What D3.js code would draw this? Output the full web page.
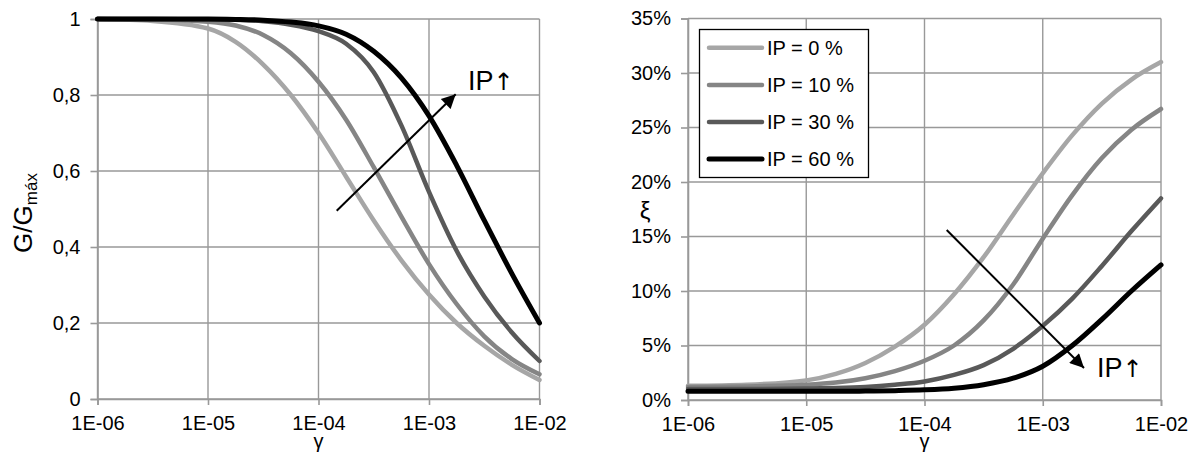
<!DOCTYPE html>
<html>
<head>
<meta charset="utf-8">
<script src="https://cdn.jsdelivr.net/npm/d3@7"></script>
<style>
  html, body { margin: 0; padding: 0; background: #fff; }
  svg { display: block; font-family: "Liberation Sans", Arial, sans-serif; }
</style>
</head>
<body>
<svg id="chart" width="1195" height="452"></svg>
<script>
// ---- data ----
const gamma = [1e-6, 3.162e-6, 1e-5, 1.778e-5, 3.162e-5, 5.623e-5, 1e-4, 1.778e-4, 3.162e-4, 5.623e-4, 1e-3, 1.778e-3, 3.162e-3, 5.623e-3, 1e-2];
const seriesNames = ["IP = 0 %", "IP = 10 %", "IP = 30 %", "IP = 60 %"];
const seriesColors = ["#a6a6a6", "#858585", "#595959", "#000000"];
// G/Gmax
const G_IP0  = [1.0, 0.995, 0.975, 0.94, 0.88, 0.80, 0.70, 0.585, 0.47, 0.365, 0.275, 0.20, 0.14, 0.09, 0.05];
const G_IP10 = [1.0, 0.999, 0.993, 0.983, 0.958, 0.91, 0.835, 0.735, 0.61, 0.48, 0.355, 0.25, 0.165, 0.105, 0.065];
const G_IP30 = [1.0, 1.0, 0.999, 0.998, 0.994, 0.985, 0.968, 0.935, 0.86, 0.72, 0.545, 0.39, 0.27, 0.175, 0.10];
const G_IP60 = [1.0, 1.0, 1.0, 0.999, 0.997, 0.992, 0.982, 0.96, 0.915, 0.845, 0.745, 0.615, 0.47, 0.33, 0.20];
// damping xi (%)
const D_IP0  = [1.3, 1.4, 1.8, 2.4, 3.4, 4.9, 6.9, 9.7, 13.1, 17.0, 20.8, 24.3, 27.2, 29.4, 31.0];
const D_IP10 = [1.2, 1.25, 1.4, 1.6, 2.0, 2.65, 3.6, 5.0, 7.3, 10.6, 14.8, 18.8, 22.2, 24.8, 26.7];
const D_IP30 = [1.0, 1.0, 1.05, 1.1, 1.2, 1.4, 1.7, 2.3, 3.2, 4.7, 6.8, 9.3, 12.3, 15.5, 18.5];
const D_IP60 = [0.8, 0.8, 0.8, 0.8, 0.82, 0.86, 0.93, 1.08, 1.4, 2.0, 3.1, 5.0, 7.4, 10.0, 12.4];
const xTickValues = [1e-6, 1e-5, 1e-4, 1e-3, 1e-2];
const xTickLabels = ["1E-06", "1E-05", "1E-04", "1E-03", "1E-02"];
const gTicks = [0, 0.2, 0.4, 0.6, 0.8, 1];
const gTickLabels = ["0", "0,2", "0,4", "0,6", "0,8", "1"];
const dTicks = [0, 5, 10, 15, 20, 25, 30, 35];
const dTickLabels = ["0%", "5%", "10%", "15%", "20%", "25%", "30%", "35%"];

const svg = d3.select("#chart");
const gridColor = "#999999";
const FS = 20;

// arrow marker
const defs = svg.append("defs");
defs.append("marker").attr("id", "ah").attr("viewBox", "0 0 10 10")
  .attr("refX", 10).attr("refY", 5).attr("markerWidth", 8).attr("markerHeight", 7)
  .attr("markerUnits", "strokeWidth").attr("orient", "auto")
  .append("path").attr("d", "M0,0 L10,5 L0,10 Z").attr("fill", "#000");

function panel(opts) {
  const x = d3.scaleLog().domain([1e-6, 1e-2]).range(opts.xr);
  const y = d3.scaleLinear().domain(opts.yd).range(opts.yr);
  const g = svg.append("g");
  // grid
  g.append("g").selectAll("line").data(opts.yTicks).join("line")
    .attr("x1", opts.xr[0]).attr("x2", opts.xr[1])
    .attr("y1", d => y(d)).attr("y2", d => y(d))
    .attr("stroke", gridColor).attr("stroke-width", 1.4);
  g.append("g").selectAll("line").data(xTickValues).join("line")
    .attr("x1", d => x(d)).attr("x2", d => x(d))
    .attr("y1", opts.yr[0]).attr("y2", opts.yr[1])
    .attr("stroke", gridColor).attr("stroke-width", 1.4);
  // axes
  const xAxis = d3.axisBottom(x).tickValues(xTickValues)
    .tickFormat((d, i) => xTickLabels[i]).tickSize(6).tickPadding(8);
  const ax = g.append("g").attr("transform", `translate(0,${opts.yr[0]})`).call(xAxis);
  const yAxis = d3.axisLeft(y).tickValues(opts.yTicks)
    .tickFormat((d, i) => opts.yLabels[i]).tickSize(7).tickPadding(10);
  const ay = g.append("g").attr("transform", `translate(${opts.xr[0]},0)`).call(yAxis);
  [ax, ay].forEach(a => {
    a.select(".domain").attr("stroke", gridColor).attr("stroke-width", 1.6);
    a.selectAll(".tick line").attr("stroke", gridColor).attr("stroke-width", 1.6);
    a.selectAll("text").attr("fill", "#000").attr("font-size", FS)
      .attr("font-family", "Liberation Sans, Arial, sans-serif");
  });
  ax.selectAll("text").attr("dy", "0.86em");
  // lines
  const line = d3.line().x((d, i) => x(gamma[i])).y(d => y(d)).curve(d3.curveMonotoneX);
  opts.series.forEach((s, k) => {
    g.append("path").attr("d", line(s)).attr("fill", "none")
      .attr("stroke", seriesColors[k]).attr("stroke-width", k === 3 ? 5 : 4.5)
      .attr("stroke-linejoin", "round").attr("stroke-linecap", "round");
  });
  // x title
  g.append("text").attr("x", (opts.xr[0] + opts.xr[1]) / 2).attr("y", 448)
    .attr("text-anchor", "middle").attr("font-size", FS).text("γ");
  return { x, y, g };
}

panel({
  xr: [97.5, 539.5], yd: [0, 1], yr: [399, 19],
  yTicks: gTicks, yLabels: gTickLabels,
  series: [G_IP0, G_IP10, G_IP30, G_IP60]
});
panel({
  xr: [688, 1161], yd: [0, 35], yr: [400, 18.5],
  yTicks: dTicks, yLabels: dTickLabels,
  series: [D_IP0, D_IP10, D_IP30, D_IP60]
});

// y titles
const yt = svg.append("text").attr("transform", "translate(32,213) rotate(-90)")
  .attr("text-anchor", "middle").attr("font-size", 26);
yt.append("tspan").text("G/G");
yt.append("tspan").attr("font-size", 17).attr("dy", 5).text("máx");

svg.append("text").attr("x", 645).attr("y", 219)
  .attr("text-anchor", "middle").attr("font-size", 24).text("ξ");

// annotation arrows
svg.append("line").attr("x1", 336.7).attr("y1", 210.7).attr("x2", 455.7).attr("y2", 94.3)
  .attr("stroke", "#000").attr("stroke-width", 2).attr("marker-end", "url(#ah)");
const t1 = svg.append("text").attr("x", 468).attr("y", 90).attr("font-size", 27).attr("fill", "#000");
t1.append("tspan").text("IP");
t1.append("tspan").attr("font-family", "DejaVu Sans").attr("font-size", 24).text("↑");
svg.append("line").attr("x1", 946.7).attr("y1", 230).attr("x2", 1084).attr("y2", 368)
  .attr("stroke", "#000").attr("stroke-width", 2).attr("marker-end", "url(#ah)");
const t2 = svg.append("text").attr("x", 1097).attr("y", 377).attr("font-size", 27).attr("fill", "#000");
t2.append("tspan").text("IP");
t2.append("tspan").attr("font-family", "DejaVu Sans").attr("font-size", 24).text("↑");

// legend
const lg = svg.append("g");
lg.append("rect").attr("x", 699.5).attr("y", 29.5).attr("width", 169).attr("height", 148)
  .attr("fill", "#fff").attr("stroke", "#000").attr("stroke-width", 1.3);
const legY = [47.7, 85, 122, 159];
seriesNames.forEach((n, k) => {
  lg.append("line").attr("x1", 709).attr("x2", 762).attr("y1", legY[k]).attr("y2", legY[k])
    .attr("stroke", seriesColors[k]).attr("stroke-width", k === 3 ? 5 : 4.5)
    .attr("stroke-linecap", "round");
  lg.append("text").attr("x", 767).attr("y", legY[k]).attr("dy", "0.36em")
    .attr("font-size", FS).text(n);
});
</script>
</body>
</html>
